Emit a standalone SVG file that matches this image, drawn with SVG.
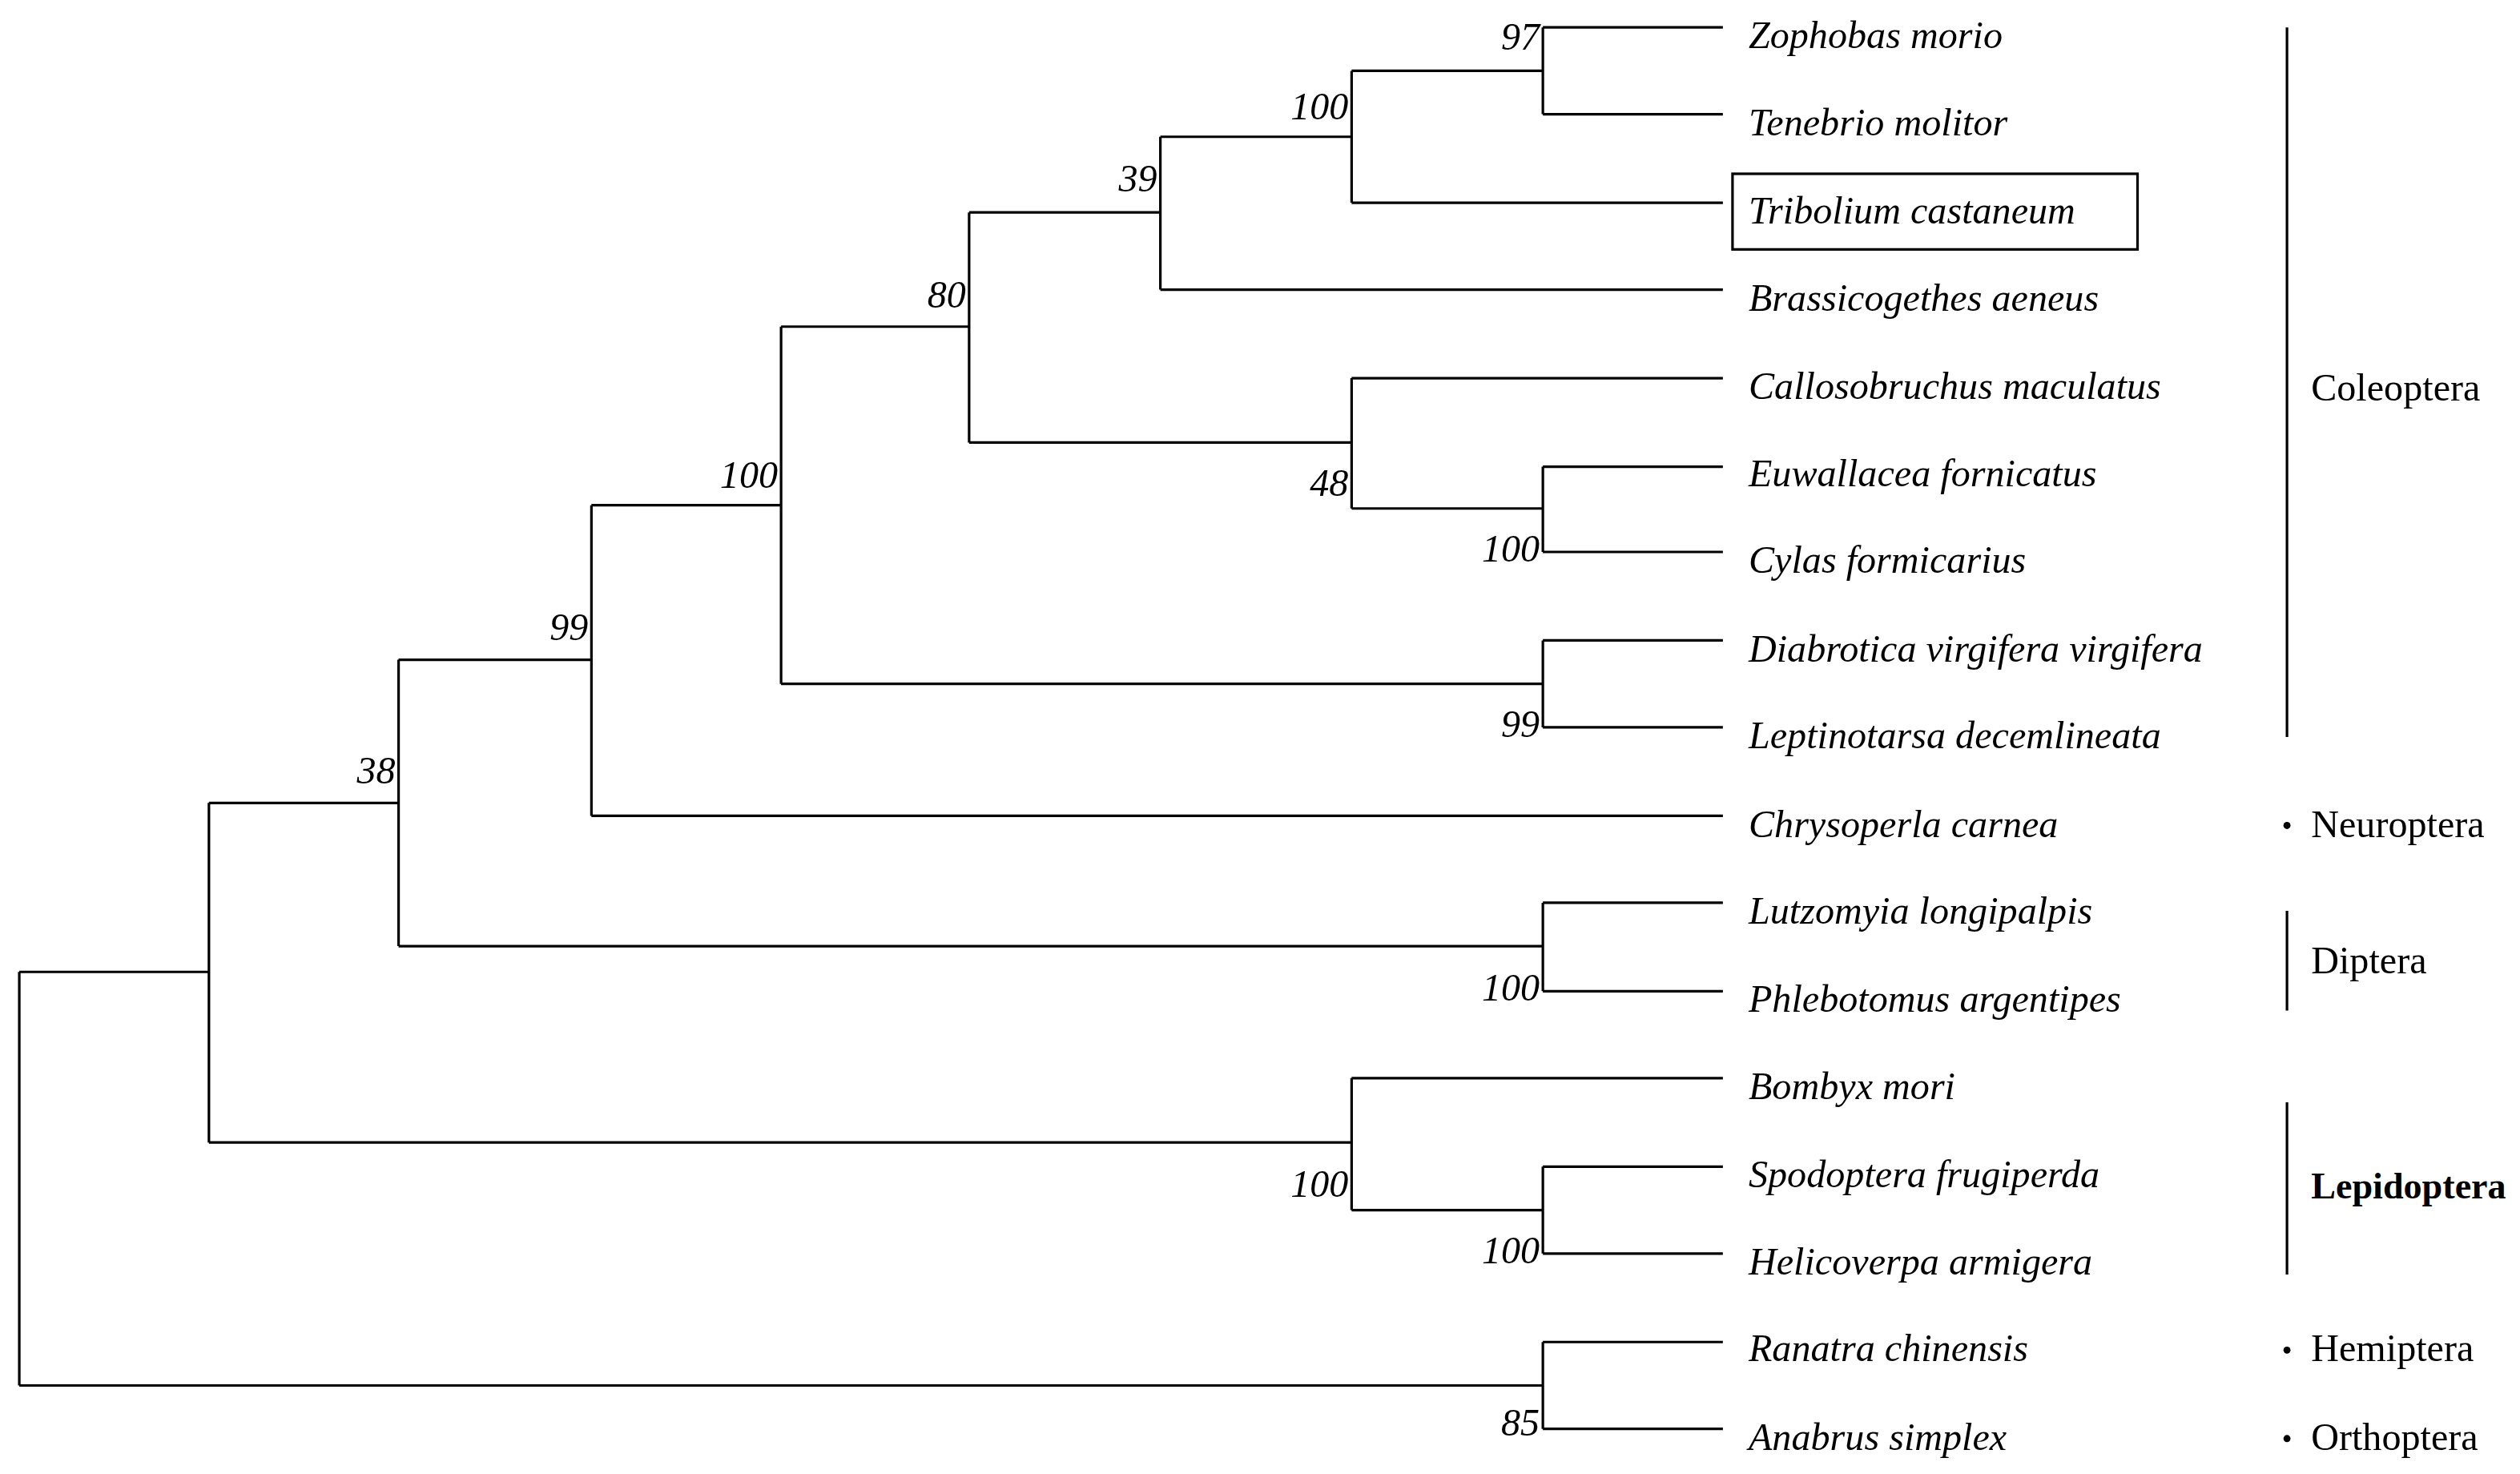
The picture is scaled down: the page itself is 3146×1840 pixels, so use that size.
<svg xmlns="http://www.w3.org/2000/svg" width="3146" height="1840" viewBox="0 0 3146 1840">
<style>
.e{fill:none;stroke:#000;stroke-width:1.6}
.sp{font-family:"Liberation Serif",serif;font-style:italic;font-size:24px}
.bs{font-family:"Liberation Serif",serif;font-style:italic;font-size:24px;text-anchor:end}
.or{font-family:"Liberation Serif",serif;font-size:24px}
</style>
<rect width="3146" height="1840" fill="#fff"/>
<g transform="scale(2.0064 2.0087)">
<g id="connectors" class="e">
<path d="M960 17H1072M960 71H1072M960 17V71"/>
<path d="M841 44H960M841 126H1072M841 44V126"/>
<path d="M722 85H841M722 180H1072M722 85V180"/>
<path d="M960 290H1072M960 343H1072M960 290V343"/>
<path d="M841 235H1072M841 316H960M841 235V316"/>
<path d="M603 132H722M603 275H841M603 132V275"/>
<path d="M960 398H1072M960 452H1072M960 398V452"/>
<path d="M486 203H603M486 425H960M486 203V425"/>
<path d="M368 314H486M368 507H1072M368 314V507"/>
<path d="M960 561H1072M960 616H1072M960 561V616"/>
<path d="M248 410H368M248 588H960M248 410V588"/>
<path d="M960 725H1072M960 779H1072M960 725V779"/>
<path d="M841 670H1072M841 752H960M841 670V752"/>
<path d="M130 499H248M130 710H841M130 499V710"/>
<path d="M960 834H1072M960 888H1072M960 834V888"/>
<path d="M12 604H130M12 861H960M12 604V861"/>
</g>
<g id="bootstrap">
<text class="bs" x="958" y="31">97</text>
<text class="bs" x="839" y="74">100</text>
<text class="bs" x="720" y="119">39</text>
<text class="bs" x="601" y="191">80</text>
<text class="bs" x="839" y="308">48</text>
<text class="bs" x="958" y="349">100</text>
<text class="bs" x="484" y="303">100</text>
<text class="bs" x="958" y="458">99</text>
<text class="bs" x="366" y="398">99</text>
<text class="bs" x="246" y="487">38</text>
<text class="bs" x="958" y="622">100</text>
<text class="bs" x="839" y="744">100</text>
<text class="bs" x="958" y="785">100</text>
<text class="bs" x="958" y="892">85</text>
</g>
<g id="leaves">
<text class="sp" x="1088" y="30">Zophobas morio</text>
<text class="sp" x="1088" y="84">Tenebrio molitor</text>
<g id="tribolium"><rect x="1078" y="108" width="252" height="47" fill="none" stroke="#000" stroke-width="1.6"/>
<text class="sp" x="1088" y="139">Tribolium castaneum</text></g>
<text class="sp" x="1088" y="193">Brassicogethes aeneus</text>
<text class="sp" x="1088" y="248">Callosobruchus maculatus</text>
<text class="sp" x="1088" y="302">Euwallacea fornicatus</text>
<text class="sp" x="1088" y="356">Cylas formicarius</text>
<text class="sp" x="1088" y="411">Diabrotica virgifera virgifera</text>
<text class="sp" x="1088" y="465">Leptinotarsa decemlineata</text>
<text class="sp" x="1088" y="520">Chrysoperla carnea</text>
<text class="sp" x="1088" y="574">Lutzomyia longipalpis</text>
<text class="sp" x="1088" y="629">Phlebotomus argentipes</text>
<text class="sp" x="1088" y="683">Bombyx mori</text>
<text class="sp" x="1088" y="738">Spodoptera frugiperda</text>
<text class="sp" x="1088" y="792">Helicoverpa armigera</text>
<text class="sp" x="1088" y="846">Ranatra chinensis</text>
<text class="sp" x="1088" y="901">Anabrus simplex</text>
</g>
<g id="orders">
<path class="e" d="M1423 17V458M1423 566V628M1423 685V792"/>
<circle cx="1423" cy="513" r="2.2"/>
<circle cx="1423" cy="839" r="2.2"/>
<circle cx="1423" cy="894" r="2.2"/>
<text class="or" x="1438" y="249">Coleoptera</text>
<text class="or" x="1438" y="520">Neuroptera</text>
<text class="or" x="1438" y="605">Diptera</text>
<text class="or" x="1438" y="745" style="font-weight:bold;font-size:23px">Lepidoptera</text>
<text class="or" x="1438" y="846">Hemiptera</text>
<text class="or" x="1438" y="901">Orthoptera</text>
</g>
</g>
</svg>
